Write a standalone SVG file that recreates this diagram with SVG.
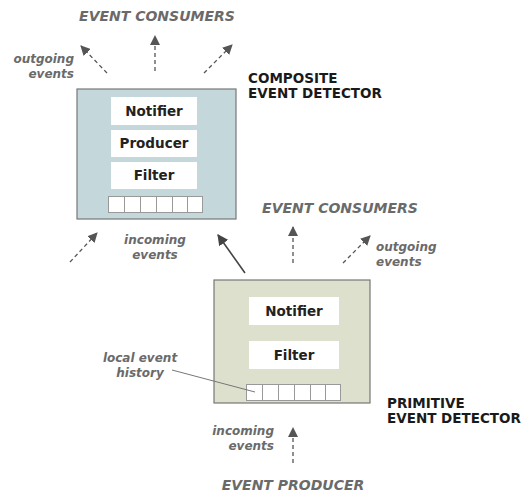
<svg xmlns="http://www.w3.org/2000/svg" width="531" height="493" viewBox="0 0 531 493">
<style>
.lbl{font-family:"DejaVu Sans",Verdana,sans-serif;font-weight:bold;font-style:italic;fill:#6a6a6a}
.big{font-size:14px}
.sm{font-size:12px}
.title{font-family:"DejaVu Sans",Verdana,sans-serif;font-weight:bold;font-size:13.5px;fill:#1a1a1a}
.comp{font-family:"DejaVu Sans",Verdana,sans-serif;font-weight:bold;font-size:13.5px;fill:#222;text-anchor:middle}
.inner{fill:#fff}
.cell{fill:#fff;stroke:#999;stroke-width:1}
.dash{stroke:#555;stroke-width:1.3;stroke-dasharray:4 3;fill:none}
.solid{stroke:#444;stroke-width:1.6;fill:none}
</style>
<defs>
<marker id="ah" viewBox="0 0 10 10" refX="9" refY="5" markerWidth="10" markerHeight="10" markerUnits="userSpaceOnUse" orient="auto">
<path d="M0,0 L10,5 L0,10 z" fill="#555"/>
</marker>
<marker id="ah2" viewBox="0 0 10 10" refX="9" refY="5" markerWidth="11" markerHeight="11" markerUnits="userSpaceOnUse" orient="auto">
<path d="M0,0 L10,5 L0,10 z" fill="#444"/>
</marker>
</defs>
<rect width="531" height="493" fill="#fff"/>

<g id="composite">
<rect x="77" y="89" width="159" height="130" fill="#c4d8dc" stroke="#777" stroke-width="1.2"/>
<rect class="inner" x="111" y="97" width="86" height="28"/>
<text class="comp" x="154" y="116">Notifier</text>
<rect class="inner" x="111" y="130" width="86" height="27"/>
<text class="comp" x="154" y="148">Producer</text>
<rect class="inner" x="111" y="162" width="86" height="27"/>
<text class="comp" x="154" y="180">Filter</text>
<g>
<rect class="cell" x="108.5" y="196.5" width="16" height="16"/>
<rect class="cell" x="124.5" y="196.5" width="16" height="16"/>
<rect class="cell" x="140.5" y="196.5" width="16" height="16"/>
<rect class="cell" x="156.5" y="196.5" width="16" height="16"/>
<rect class="cell" x="172.5" y="196.5" width="15" height="16"/>
<rect class="cell" x="187.5" y="196.5" width="15" height="16"/>
</g>
<text class="title" x="248" y="83">COMPOSITE</text>
<text class="title" x="248" y="98">EVENT DETECTOR</text>
</g>

<g id="primitive">
<rect x="214" y="280" width="156" height="123" fill="#dde0cd" stroke="#777" stroke-width="1.2"/>
<rect class="inner" x="249" y="297" width="90" height="28"/>
<text class="comp" x="294" y="316">Notifier</text>
<rect class="inner" x="249" y="341" width="90" height="28"/>
<text class="comp" x="294" y="360">Filter</text>
<g>
<rect class="cell" x="246.5" y="384.5" width="16" height="16"/>
<rect class="cell" x="262.5" y="384.5" width="16" height="16"/>
<rect class="cell" x="278.5" y="384.5" width="16" height="16"/>
<rect class="cell" x="294.5" y="384.5" width="16" height="16"/>
<rect class="cell" x="310.5" y="384.5" width="15" height="16"/>
<rect class="cell" x="325.5" y="384.5" width="15" height="16"/>
</g>
<text class="title" x="387" y="408">PRIMITIVE</text>
<text class="title" x="387" y="423">EVENT DETECTOR</text>
</g>

<g id="consumers-top">
<text class="lbl big" x="157" y="21" text-anchor="middle">EVENT CONSUMERS</text>
</g>
<g id="consumers-mid">
<text class="lbl big" x="340" y="213" text-anchor="middle">EVENT CONSUMERS</text>
</g>
<g id="producer">
<text class="lbl big" x="293" y="490" text-anchor="middle">EVENT PRODUCER</text>
</g>

<g id="labels">
<text class="lbl sm" x="74" y="63" text-anchor="end">outgoing</text>
<text class="lbl sm" x="74" y="78" text-anchor="end">events</text>
<text class="lbl sm" x="155" y="244" text-anchor="middle">incoming</text>
<text class="lbl sm" x="155" y="259" text-anchor="middle">events</text>
<text class="lbl sm" x="376" y="251" text-anchor="start">outgoing</text>
<text class="lbl sm" x="376" y="266" text-anchor="start">events</text>
<text class="lbl sm" x="140" y="362" text-anchor="middle">local event</text>
<text class="lbl sm" x="140" y="377" text-anchor="middle">history</text>
<text class="lbl sm" x="274" y="435" text-anchor="end">incoming</text>
<text class="lbl sm" x="274" y="450" text-anchor="end">events</text>
</g>

<g id="connectors">
<line class="dash" x1="107" y1="73" x2="81" y2="46" marker-end="url(#ah)"/>
<line class="dash" x1="155" y1="71" x2="155" y2="36" marker-end="url(#ah)"/>
<line class="dash" x1="204" y1="73" x2="232" y2="45" marker-end="url(#ah)"/>
<line class="dash" x1="70" y1="262" x2="97" y2="233" marker-end="url(#ah)"/>
<line class="solid" x1="245" y1="273" x2="218" y2="235" marker-end="url(#ah2)"/>
<line class="dash" x1="293" y1="263" x2="293" y2="227" marker-end="url(#ah)"/>
<line class="dash" x1="343" y1="263" x2="370" y2="236" marker-end="url(#ah)"/>
<line class="dash" x1="293" y1="463" x2="293" y2="428" marker-end="url(#ah)"/>
<line x1="172" y1="370" x2="255" y2="392" stroke="#777" stroke-width="1"/>
</g>
</svg>
